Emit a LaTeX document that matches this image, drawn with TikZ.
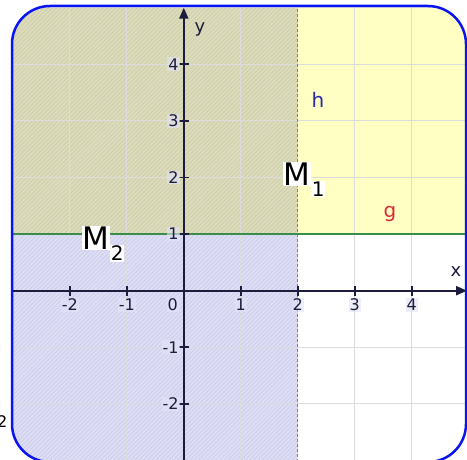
\documentclass[tikz,border=0pt]{standalone}
\usepackage{fontspec}
\setmainfont{DejaVu Sans}
\usetikzlibrary{arrows.meta,patterns.meta}
\definecolor{olivefill}{HTML}{DCDCBC}
\definecolor{olivehatch}{HTML}{C9C9A6}
\definecolor{lavfill}{HTML}{DDDDF6}
\definecolor{lavhatch}{HTML}{C8C8E6}
\definecolor{yelfill}{HTML}{FFFFC4}
\definecolor{gridgray}{HTML}{DCDCDC}
\definecolor{axiscol}{HTML}{1C1C3C}
\definecolor{linegreen}{HTML}{3C8C4C}
\definecolor{framecol}{HTML}{0A14F0}
\definecolor{ticklabbg}{HTML}{E2E2F8}
\definecolor{hblue}{HTML}{2828B4}
\definecolor{gred}{HTML}{E0283C}
\tikzset{
  ticklab/.style={font=\fontsize{16}{16}\selectfont, text=axiscol, fill=ticklabbg, fill opacity=0.6, text opacity=1, inner sep=1pt},
  axislab/.style={font=\fontsize{18}{18}\selectfont, text=axiscol, inner sep=1pt},
  mlab/.style={font=\fontsize{31}{31}\selectfont, fill=white, inner sep=1pt},
  sublab/.style={font=\fontsize{20}{20}\selectfont, fill=white, inner sep=1pt},
  axisline/.style={draw=axiscol, line width=2pt, -{Triangle[length=11pt,width=9pt]}},
  tickmark/.style={draw=axiscol, line width=1.6pt},
}
\begin{document}
\begin{tikzpicture}[x=1pt,y=1pt]
\useasboundingbox (0,0) rectangle (467,459);
% stray fragment at left edge
\node[font=\fontsize{16}{16}\selectfont, text=black, anchor=east, inner sep=0pt] (stray) at (7.5,37) {2};
\begin{scope}
  \clip[rounded corners=38pt] (12,-3) rectangle (466,453);
  % regions
  \fill[olivefill] (12,224.9) rectangle (297.8,460);
  \fill[pattern={Lines[angle=45,distance=3pt,line width=0.5pt]}, pattern color=olivehatch] (12,224.9) rectangle (297.8,460);
  \fill[lavfill] (12,-5) rectangle (297.8,224.9);
  \fill[pattern={Lines[angle=45,distance=3pt,line width=0.5pt]}, pattern color=lavhatch] (12,-5) rectangle (297.8,224.9);
  \fill[yelfill] (297.8,224.9) rectangle (470,460);
  % grid
  \begin{scope}[shift={(183.8,168.3)}, x=57pt, y=56.6pt]
    \foreach \i in {-3,...,4} \draw[gridgray, line width=0.9pt] (\i,-3.2) -- (\i,5.2);
    \foreach \j in {-3,...,5} \draw[gridgray, line width=0.9pt] (-3.2,\j) -- (5.2,\j);
    \draw[gray, dash pattern=on 3pt off 2pt, line width=0.8pt] (2,-3.2) -- (2,5.2);
    \coordinate (gl) at (-3.1,1);
    \coordinate (gr) at (5.1,1);
    \draw[linegreen, line width=1.6pt] (gl) -- (gr);
  \end{scope}
\end{scope}
\begin{scope}[shift={(183.8,168.3)}, x=57pt, y=56.6pt]
  % axes
  \coordinate (xs) at (-3.01,0);
  \coordinate (xe) at (4.97,0);
  \coordinate (ys) at (0,-3.0);
  \coordinate (ye) at (0,5.0);
  \draw[axisline] (xs) -- (xe);
  \draw[axisline] (ys) -- (ye);
  \foreach \i in {-2,-1,1,2,3,4} {
    \draw[tickmark] (\i,0) ++(0,-5pt) -- ++(0,10pt);
    \node[ticklab] (xt\i) at ([yshift=-14pt]\i,0) {\i};
  }
  \foreach \j in {-2,-1,1,2,3,4} {
    \draw[tickmark] (0,\j) ++(-5pt,0) -- ++(10pt,0);
    \node[ticklab, anchor=east] (yt\j) at ([xshift=-4pt]0,\j) {\j};
  }
  \node[ticklab] (o) at ([xshift=-11pt,yshift=-14pt]0,0) {0};
\end{scope}
\node[axislab] (ylabel) at (200,430) {y};
\node[axislab] (xlabel) at (456,187) {x};
\node[font=\fontsize{20}{20}\selectfont, text=hblue, inner sep=1pt] (hlab) at (318,359) {h};
\node[font=\fontsize{20}{20}\selectfont, text=gred, inner sep=1pt] (glab) at (390,245) {g};
\node[mlab] (m1) at (297,285) {M};
\node[sublab, anchor=north west, inner sep=1pt] (m1s) at ([xshift=-1pt,yshift=6pt]m1.south east) {1};
\node[mlab] (m2) at (96,221) {M};
\node[sublab, anchor=north west, inner sep=1pt] (m2s) at ([xshift=-1pt,yshift=6pt]m2.south east) {2};
% frame
\draw[framecol, line width=2.5pt, rounded corners=38pt] (12,-3) rectangle (466,453);
\end{tikzpicture}
\end{document}
